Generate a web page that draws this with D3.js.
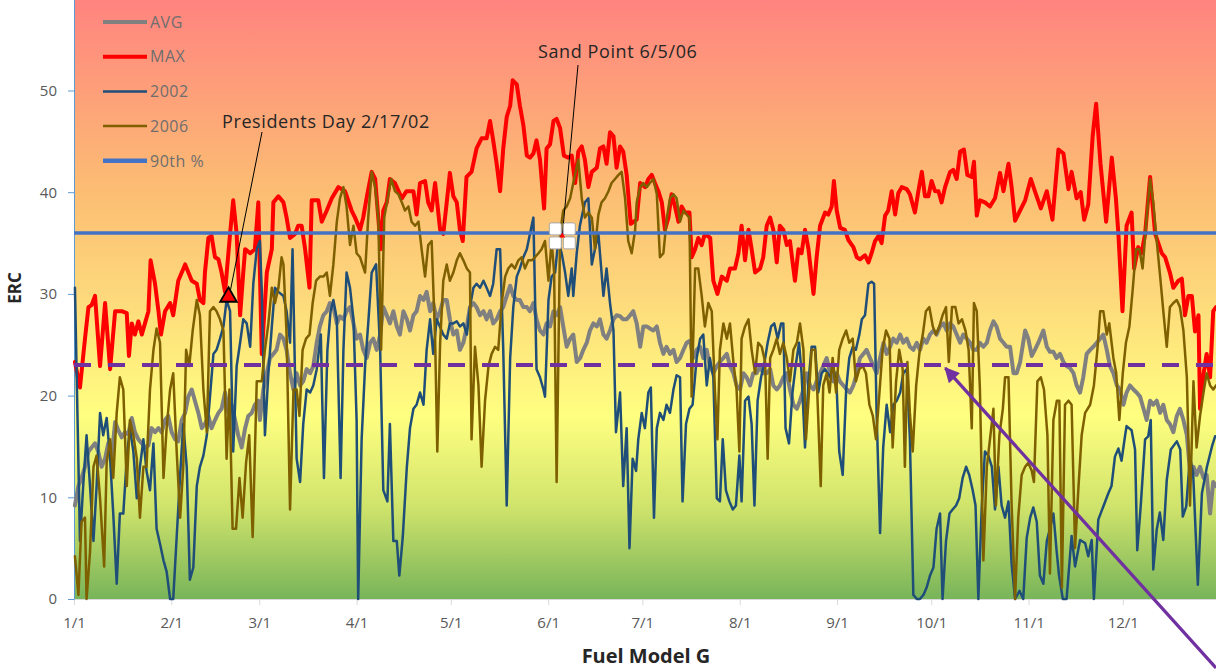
<!DOCTYPE html>
<html>
<head>
<meta charset="utf-8">
<script src="https://cdn.jsdelivr.net/npm/d3@7"></script>
<style>
html, body { margin: 0; padding: 0; background: #fff; }
svg { display: block; font-family: "Open Sans", sans-serif; }
</style>
</head>
<body>
<svg id="chart" width="1216" height="670"></svg>
<script>
// month axis
const monthLabels = ["1/1","2/1","3/1","4/1","5/1","6/1","7/1","8/1","9/1","10/1","11/1","12/1"];
const monthStartDays = [0,31,59,90,120,151,181,212,243,273,304,334];
const yTicks = [0,10,20,30,40,50];

const ninetieth = 36;   // 90th percentile ERC
const dashLevel = 23;   // purple dashed reference

// [day of year, ERC]
const avgPts = [[0.3,9.2],[1.4,11.1],[2.4,11.9],[3.5,13.0],[4.6,14.5],[5.6,14.9],[6.7,15.3],[7.7,14.5],[8.8,13.0],[9.9,13.8],[10.9,15.3],[12.0,14.0],[13.1,17.4],[14.1,16.6],[15.2,15.9],[16.2,16.4],[17.3,16.2],[18.4,17.8],[19.4,16.4],[20.5,15.7],[21.6,15.3],[22.6,14.9],[23.7,15.1],[24.7,16.8],[25.8,16.4],[26.9,16.8],[27.9,16.4],[29.0,17.6],[30.0,18.0],[31.1,16.4],[32.2,15.7],[33.2,15.5],[34.3,17.6],[35.4,18.3],[36.4,19.9],[37.5,20.6],[38.5,19.5],[39.6,18.3],[40.7,16.8],[41.7,17.2],[42.8,18.0],[43.8,16.8],[44.9,17.6],[46.0,18.3],[47.0,18.7],[48.1,20.3],[49.2,18.3],[50.2,19.1],[51.3,17.6],[52.3,16.1],[53.4,14.9],[54.5,16.8],[55.5,18.0],[56.6,18.3],[57.6,19.1],[58.7,19.5],
[59.2,17.6],[60.3,20.6],[61.4,22.2],[62.4,23.7],[63.5,24.1],[64.5,24.5],[65.6,26.0],[66.7,25.6],[67.7,24.5],[68.8,22.2],[69.9,20.6],[70.9,22.2],[72.0,21.0],[73.0,21.4],[74.1,22.6],[75.2,22.2],[76.2,22.9],[77.3,25.2],[78.3,26.8],[79.4,27.9],[80.5,28.3],[81.5,29.1],[82.6,28.7],[83.7,27.1],[84.7,27.8],[85.8,27.5],[86.8,28.3],[87.9,28.7],[89.0,27.1],[90.0,25.6],[91.1,26.0],[92.1,24.5],[93.2,23.7],[94.3,25.2],[95.3,25.6],[96.4,24.5],[97.5,26.0],[98.5,28.7],[99.6,27.9],[100.6,27.1],[101.7,28.3],[102.8,26.8],[103.8,26.0],[104.9,28.3],[106.0,27.5],[107.0,26.4],[108.1,27.9],[109.1,28.3],[110.2,29.8],[111.3,29.4],[112.3,30.2],[113.4,28.3],[114.4,29.1],[115.5,27.5],
[116.6,28.3],[117.6,29.4],[118.7,29.4],[119.7,27.5],[120.8,26.0],[121.9,26.4],[122.9,24.5],[124.0,25.2],[125.1,26.8],[126.1,28.7],[127.2,29.1],[128.2,28.7],[129.3,27.9],[130.4,28.3],[131.4,27.5],[132.5,28.3],[133.5,27.1],[134.6,27.5],[135.7,28.3],[136.7,28.7],[137.8,29.8],[138.9,30.8],[139.9,29.8],[141.0,29.4],[142.0,29.4],[143.1,28.7],[144.2,28.7],[145.2,28.3],[146.3,29.1],[147.3,27.5],[148.4,26.4],[149.5,26.0],[150.5,27.1],[151.6,26.8],[152.7,28.3],[153.7,27.9],[154.8,28.7],[155.8,26.8],[156.9,24.8],[158.0,25.6],[159.0,26.0],[160.1,23.3],[161.2,23.7],[162.2,24.5],[163.3,25.2],[164.3,26.4],[165.4,27.1],[166.5,26.8],[167.5,27.5],[168.6,26.0],[169.6,25.6],[170.7,26.4],[171.8,27.5],[172.8,27.9],[173.9,27.8],[174.9,27.5],[176.0,27.5],[177.1,27.9],[178.1,28.3],
[179.2,27.1],[180.3,24.8],[181.3,26.8],[182.4,26.8],[183.4,26.6],[184.5,26.4],[185.6,26.8],[186.6,25.2],[187.7,24.1],[188.7,24.8],[189.8,24.1],[190.9,24.5],[191.9,23.3],[193.0,23.7],[194.1,24.5],[195.1,25.2],[196.2,25.4],[197.2,23.7],[198.3,24.5],[199.4,24.8],[200.4,23.7],[201.5,24.5],[202.5,22.9],[203.6,22.2],[204.7,22.9],[205.7,23.3],[206.8,23.7],[207.9,24.1],[208.9,22.9],[210.0,22.2],[211.0,21.0],[212.1,20.6],[213.2,22.2],[214.2,21.8],[215.3,21.0],[216.3,22.2],[217.4,22.2],[218.5,22.9],[219.5,22.2],[220.6,22.2],[221.7,22.6],[222.7,21.0],[223.8,20.6],[224.8,21.0],[225.9,21.8],[227.0,22.2],[228.0,20.6],[229.1,19.1],[230.2,18.7],[231.2,19.5],[232.3,20.6],[233.3,22.2],[234.4,21.0],[235.5,20.6],[236.5,21.4],[237.6,22.2],[238.6,22.9],[239.7,23.7],
[240.8,22.2],[241.8,21.4],[242.9,22.2],[243.9,21.4],[245.0,21.0],[246.1,20.6],[247.1,20.3],[248.2,21.0],[249.3,22.2],[250.3,23.7],[251.4,24.1],[252.4,24.5],[253.5,23.7],[254.6,22.9],[255.6,22.2],[256.7,23.7],[257.8,25.2],[258.8,24.1],[259.9,24.8],[260.9,25.6],[262.0,25.2],[263.1,26.0],[264.1,25.2],[265.2,25.6],[266.2,24.8],[267.3,24.5],[268.4,25.2],[269.4,24.5],[270.5,25.6],[271.5,25.2],[272.6,26.0],[273.7,26.4],[274.7,26.0],[275.8,26.8],[276.9,27.1],[277.9,26.4],[279.0,27.1],[280.0,26.8],[281.1,26.0],[282.2,25.2],[283.2,26.0],[284.3,25.6],[285.4,25.2],[286.4,24.5],[287.5,24.5],[288.5,25.2],[289.6,24.8],[290.7,25.2],[291.7,26.4],[292.8,27.3],[293.8,26.8],[294.9,25.6],[296.0,25.2],[297.0,24.8],[298.1,24.8],[299.2,22.2],[300.2,22.2],
[301.3,23.3],[302.9,26.4],[303.9,25.6],[305.0,23.9],[306.0,24.5],[307.1,25.2],[308.7,26.4],[309.8,24.8],[310.8,24.3],[311.9,24.3],[312.9,23.7],[314.0,24.1],[315.1,23.3],[316.1,22.9],[317.2,22.7],[318.3,22.2],[319.3,21.0],[320.4,20.3],[321.4,21.8],[322.5,24.1],[323.6,24.5],[324.6,24.8],[325.7,25.2],[326.8,25.6],[327.8,26.0],[328.9,24.5],[329.9,22.9],[331.0,22.2],[332.1,21.0],[333.1,20.6],[334.2,19.1],[335.2,20.3],[336.3,21.0],[337.4,20.6],[338.4,20.3],[339.5,19.9],[340.6,18.7],[341.6,17.6],[342.7,19.5],[343.7,19.1],[344.8,19.5],[345.9,18.3],[346.9,19.1],[348.0,17.6],[349.0,17.2],[350.1,16.4],[351.2,18.0],[352.2,18.7],[353.3,17.6],[354.4,16.1],[355.4,12.6],[356.5,13.0],[357.5,12.2],[358.6,13.0],[359.7,11.9],[360.7,12.2],[361.8,8.4],[362.8,11.5],[363.7,11.1]];

const maxPts = [[0.3,23.3],[1.9,20.8],[3.5,25.6],[4.6,28.7],[5.6,28.9],[6.7,29.8],[8.3,22.9],[9.9,29.1],[11.5,22.6],[13.1,28.3],[15.2,28.3],[16.8,28.1],[17.5,23.9],[18.4,27.1],[19.4,26.0],[20.5,27.3],[21.6,26.0],[22.6,27.1],[23.7,28.3],[24.4,33.3],[25.8,31.0],[26.9,28.3],[27.7,26.0],[29.0,28.3],[30.6,29.1],[31.6,27.9],[33.2,31.3],[35.4,32.9],[37.5,31.3],[39.1,31.0],[40.1,29.4],[41.2,29.1],[41.7,32.1],[42.8,35.5],[43.8,35.7],[44.9,33.6],[46.0,33.4],[47.0,32.1],[48.1,30.2],[49.7,35.9],[50.7,39.2],[51.8,35.9],[52.9,27.9],[53.9,32.1],[54.5,34.4],[56.1,34.0],[57.6,34.4],[58.7,39.0],[59.8,24.1],[61.4,32.1],[63.0,34.4],[63.5,39.0],[65.1,39.6],[66.7,39.0],[67.7,37.5],[68.8,35.5],[70.4,35.9],[71.4,36.7],[72.5,36.7],[73.6,34.4],[75.0,30.6],[75.7,39.2],[77.8,39.2],[78.9,37.1],[80.5,38.2],[82.1,39.4],[84.2,40.5],[86.3,40.1],[88.4,38.2],[89.5,37.5],[91.1,36.3],[92.1,37.5],[93.4,39.8],[94.8,42.0],[95.9,41.3],[96.9,37.5],[97.7,34.4],[98.5,38.2],[99.6,39.0],[100.6,41.3],[102.2,40.9],[104.4,39.4],[105.9,40.1],[108.1,40.1],[109.1,37.8],[110.2,40.9],[111.8,41.1],[112.8,39.0],[113.9,38.2],[115.0,40.9],[116.6,36.3],[117.6,35.9],[118.7,39.0],[119.7,41.9],[120.8,39.6],[121.9,39.0],[122.9,36.3],[123.8,35.2],[125.0,41.5],[126.6,42.0],[128.2,44.3],[129.8,45.3],[131.4,45.3],[132.5,47.0],[133.5,45.1],[134.6,42.8],[135.7,40.1],[136.7,44.3],[137.8,47.4],[138.9,48.5],[139.7,51.0],[141.0,50.6],[142.0,48.5],[143.1,46.6],[144.2,43.6],[145.2,43.4],[146.3,43.8],[147.3,45.1],[148.4,43.2],[149.7,38.4],[150.5,44.3],[151.6,44.7],[152.7,47.0],[153.7,47.2],[154.8,46.3],[156.0,43.6],[157.4,43.4],[158.5,43.6],[159.6,40.9],[160.6,44.0],[161.7,44.5],[162.7,43.2],[163.8,40.5],[164.9,42.0],[166.5,42.4],[167.5,44.3],[168.6,44.5],[169.6,42.8],[170.7,45.9],[171.8,45.5],[172.8,42.4],[173.9,44.5],[174.9,44.0],[176.0,41.7],[177.3,36.9],[179.2,37.3],[180.3,40.9],[181.9,40.5],[182.9,41.3],[184.0,41.7],[185.0,40.9],[186.1,40.1],[187.2,39.0],[188.2,36.3],[189.3,37.5],[190.3,39.8],[191.4,38.6],[192.5,37.1],[193.5,38.6],[194.6,38.0],[196.0,38.0],[196.7,33.6],[197.8,34.4],[198.8,35.5],[199.9,34.8],[200.9,35.9],[202.6,35.5],[203.6,31.3],[204.9,30.0],[206.3,31.7],[207.9,31.3],[208.9,32.5],[210.5,32.5],[211.6,34.0],[212.6,36.7],[213.7,33.3],[214.8,36.3],[215.8,34.4],[216.9,32.1],[218.5,32.5],[219.5,33.6],[220.6,36.7],[221.7,37.5],[222.7,36.3],[223.8,33.1],[224.8,36.7],[225.9,36.3],[227.0,34.8],[228.0,35.2],[229.1,32.5],[229.6,31.3],[230.7,34.4],[231.7,34.0],[232.8,36.3],[233.9,34.4],[235.5,30.0],[236.5,33.6],[237.6,36.7],[239.2,38.0],[240.2,37.8],[241.3,38.6],[242.0,41.1],[242.9,38.2],[244.0,36.5],[245.5,36.3],[246.6,35.3],[248.2,34.6],[249.3,33.6],[250.3,33.4],[251.9,33.8],[253.0,33.1],[254.0,34.0],[255.1,35.2],[256.2,35.7],[257.2,35.0],[258.3,37.7],[259.3,38.2],[260.4,40.1],[261.5,37.8],[262.5,39.9],[263.6,40.5],[265.2,40.3],[266.2,39.8],[267.8,38.0],[268.9,40.1],[270.0,42.0],[271.0,39.6],[272.1,39.6],[273.1,41.1],[274.2,40.1],[275.3,40.1],[276.3,39.0],[277.4,40.5],[279.0,42.0],[280.0,42.2],[281.1,41.3],[282.2,44.0],[283.4,44.2],[284.5,41.7],[285.9,41.5],[286.6,43.0],[287.5,37.7],[288.5,39.2],[290.1,39.0],[291.7,38.6],[293.3,39.4],[294.9,41.9],[296.0,40.1],[297.6,42.8],[298.6,40.5],[299.7,37.2],[301.3,38.2],[302.9,39.2],[304.7,41.3],[306.0,40.1],[307.9,38.4],[309.8,40.1],[311.6,37.3],[313.5,44.2],[315.1,43.8],[316.7,40.3],[317.7,42.0],[319.3,39.4],[320.6,40.0],[321.7,37.3],[323.0,38.8],[324.4,45.5],[325.5,48.7],[326.9,42.8],[328.7,37.1],[330.5,43.4],[331.8,39.4],[332.6,35.9],[333.9,28.3],[335.2,36.7],[336.8,38.0],[337.6,32.5],[338.9,34.6],[340.0,34.0],[341.1,35.9],[342.7,41.5],[344.3,35.9],[346.4,34.0],[347.5,33.6],[349.0,32.1],[350.1,30.6],[351.7,31.3],[352.8,31.5],[353.8,27.9],[354.9,29.8],[356.0,29.8],[357.0,26.3],[358.1,27.9],[358.6,18.7],[359.7,22.1],[360.7,24.1],[361.8,21.8],[362.8,28.3],[363.7,28.7]];

const erc2002 = [[0.3,30.6],[1.9,5.7],[3.0,11.5],[4.0,16.1],[5.1,11.1],[6.2,5.7],[7.2,11.1],[8.3,18.3],[9.3,16.1],[10.4,17.8],[11.5,13.8],[12.5,8.4],[13.6,1.5],[14.6,8.4],[15.7,8.4],[16.8,13.8],[17.8,16.8],[18.9,14.5],[20.0,9.9],[21.0,13.0],[22.1,15.7],[23.1,12.6],[24.2,10.7],[25.3,15.3],[26.3,6.9],[27.4,5.4],[28.5,3.8],[29.5,2.7],[30.6,0],[31.6,0],[32.7,6.1],[33.8,12.2],[34.8,17.2],[35.9,13.0],[36.9,1.9],[38.0,3.1],[39.1,11.1],[40.1,13.0],[41.2,14.1],[42.3,16.1],[43.3,19.9],[44.4,24.1],[45.4,24.5],[46.5,25.6],[47.6,26.8],[48.6,29.4],[49.7,28.3],[50.7,14.5],[51.8,22.9],[52.9,25.2],[53.9,27.5],[55.0,27.1],[56.1,24.8],[57.1,31.0],[58.2,34.4],
[59.2,35.2],[59.8,30.2],[60.8,16.1],[61.9,22.2],[63.0,26.8],[64.0,30.6],[65.1,30.2],[66.7,29.8],[67.7,28.3],[68.8,25.2],[69.6,34.4],[70.9,13.8],[72.0,11.5],[73.0,17.2],[74.1,20.6],[75.2,20.3],[76.2,21.0],[77.3,22.6],[78.6,26.0],[79.6,11.9],[80.7,24.5],[81.7,28.3],[82.6,29.4],[83.7,27.5],[84.9,11.9],[85.8,24.5],[86.8,32.1],[87.9,30.6],[89.0,27.5],[90.0,17.6],[90.5,0],[91.6,15.7],[92.7,22.9],[93.7,27.1],[94.8,32.1],[96.2,32.9],[97.5,24.5],[98.5,10.7],[99.8,9.6],[100.6,17.2],[101.7,5.7],[102.8,5.7],[103.6,2.3],[104.7,6.1],[106.0,13.0],[107.0,16.8],[108.1,18.7],[109.1,19.1],[110.2,20.3],[111.3,19.1],[112.3,24.5],[113.4,27.5],[114.4,24.1],[115.5,27.5],
[117.6,26.0],[118.7,25.6],[119.7,27.1],[120.8,27.1],[121.9,27.3],[122.9,26.8],[124.0,27.1],[125.1,26.0],[126.1,28.7],[127.2,30.6],[128.2,31.0],[129.3,30.6],[130.4,31.3],[131.4,30.6],[132.5,29.8],[133.5,31.0],[134.6,34.4],[135.7,34.4],[136.7,24.5],[137.8,9.2],[138.9,23.7],[139.9,28.7],[141.0,31.7],[142.0,32.5],[143.1,33.6],[144.2,34.4],[145.2,35.9],[146.3,37.5],[147.3,22.6],[148.4,21.8],[149.5,20.6],[150.0,19.9],[151.1,29.4],[152.1,31.7],[153.2,32.1],[154.2,35.2],[155.3,34.0],[156.4,32.1],[157.4,29.8],[158.5,32.5],[159.0,29.8],[160.1,34.0],[161.1,36.7],[162.7,39.0],[163.8,39.4],[164.9,32.9],[165.9,34.4],[167.0,35.9],[168.0,32.1],[168.6,29.8],[169.6,32.5],[170.7,29.1],[171.8,26.4],[172.6,16.4],[173.9,20.3],[174.9,11.1],[176.0,16.8],[176.9,5.0],[177.9,13.8],[179.0,12.6],
[179.7,15.7],[180.8,18.3],[181.8,16.8],[182.9,20.3],[183.7,20.8],[184.7,8.0],[185.6,16.8],[186.6,18.3],[187.7,17.6],[188.7,19.1],[189.8,18.3],[190.9,20.6],[191.9,22.0],[193.0,21.8],[193.8,9.6],[194.9,17.2],[196.0,18.7],[197.0,19.1],[198.3,23.7],[199.4,25.6],[200.4,26.0],[201.5,21.0],[202.5,23.7],[203.6,21.8],[204.7,9.9],[205.7,9.6],[206.6,15.7],[207.6,10.7],[208.7,9.6],[209.8,8.8],[210.8,9.2],[211.9,14.1],[212.6,9.6],[213.7,19.5],[214.8,19.9],[215.8,17.2],[216.7,9.2],[217.7,19.5],[218.8,21.8],[219.9,23.3],[220.9,25.2],[222.0,26.8],[223.0,27.1],[224.1,25.6],[225.2,27.1],[225.9,27.1],[226.6,16.8],[227.7,15.3],[228.8,20.3],[229.8,22.9],[230.9,25.2],[231.7,22.2],[232.8,14.9],[233.9,21.4],[234.9,24.8],[236.0,24.8],[237.0,20.3],[238.1,22.2],[239.2,22.6],
[240.8,21.8],[241.8,22.9],[242.9,20.6],[243.7,14.5],[244.8,12.2],[245.9,20.6],[246.9,23.7],[248.0,24.8],[249.0,24.5],[250.1,26.0],[250.9,27.5],[251.9,27.9],[253.0,31.0],[254.0,31.2],[254.8,31.0],[255.6,18.3],[256.7,6.5],[257.7,14.9],[258.8,19.1],[259.9,16.4],[260.9,19.1],[262.0,19.5],[263.1,20.3],[264.1,22.2],[265.2,22.6],[266.2,15.7],[267.3,0.4],[268.4,0],[269.4,0],[270.5,0.4],[271.5,1.1],[272.6,2.3],[273.7,3.1],[274.7,6.9],[275.8,8.4],[276.6,0],[277.7,5.7],[278.8,8.4],[279.8,8.8],[280.9,9.2],[281.9,9.9],[283.0,11.9],[284.1,13.0],[285.1,12.2],[286.2,10.7],[287.1,9.2],[288.0,0],[289.1,9.2],[290.1,14.5],[291.2,14.1],[292.3,13.0],[293.3,8.8],[294.4,13.0],[295.4,9.2],[296.5,8.0],[297.6,9.6],[298.6,3.4],
[299.7,0],[301.1,0.8],[302.3,0],[303.4,6.0],[304.5,8.0],[305.5,9.0],[306.6,7.6],[307.6,2.3],[308.7,1.5],[309.8,5.7],[310.8,6.9],[311.9,8.4],[312.9,4.8],[313.7,2.3],[314.9,0],[316.1,0],[317.7,6.2],[318.8,3.2],[320.4,5.8],[322.0,5.5],[323.0,4.2],[324.1,5.8],[324.8,0],[326.2,7.8],[327.8,9.1],[329.4,10.4],[330.4,11.1],[331.5,14.0],[332.6,14.8],[333.6,13.6],[334.7,16.0],[335.2,17.0],[336.8,16.6],[337.9,14.7],[338.6,4.8],[339.7,9.1],[341.1,15.7],[342.1,16.0],[342.9,17.6],[343.7,2.9],[344.8,6.8],[345.8,8.5],[346.9,5.8],[348.0,11.7],[349.3,14.7],[351.2,15.5],[352.3,14.7],[353.1,8.1],[354.2,9.1],[355.4,14.0],[356.4,12.4],[357.9,1.4],[359.2,10.4],[360.8,13.0],[362.4,15.0],[363.4,16.0]];

const erc2006 = [[0.3,4.2],[1.4,0.4],[2.4,7.6],[3.5,8.0],[4.0,0],[5.1,4.6],[6.2,13.0],[7.2,14.1],[8.3,9.9],[9.6,3.2],[10.4,13.4],[11.5,15.7],[12.5,11.9],[13.6,18.3],[14.6,21.8],[15.7,20.6],[16.8,11.1],[17.8,17.6],[18.9,16.1],[20.0,13.8],[21.0,8.0],[22.1,13.0],[23.1,13.0],[24.2,20.6],[25.3,24.5],[26.3,26.6],[27.4,25.2],[28.5,11.9],[29.5,16.8],[30.6,20.6],[31.6,22.2],[32.7,14.5],[33.8,8.0],[34.8,13.0],[35.7,24.5],[36.7,22.9],[37.8,26.4],[39.1,29.4],[40.1,27.9],[41.2,20.6],[42.3,16.4],[43.3,28.3],[44.4,28.7],[45.4,28.3],[46.5,27.5],[47.6,26.4],[48.6,13.8],[49.5,20.6],[50.5,6.9],[51.6,6.9],[52.7,11.9],[53.7,8.0],[54.8,13.4],[55.8,16.1],[56.9,6.1],
[58.2,21.4],[59.8,21.4],[60.8,24.5],[61.9,27.1],[63.0,30.6],[64.0,29.1],[65.1,30.6],[66.1,33.6],[66.7,32.9],[67.7,26.0],[68.8,8.8],[69.9,20.6],[70.9,20.6],[71.8,18.0],[72.8,24.5],[73.9,25.6],[75.0,26.0],[76.0,29.1],[77.1,31.3],[78.3,31.7],[79.4,31.7],[80.5,32.1],[81.5,29.8],[82.6,32.9],[83.7,37.1],[84.7,39.4],[85.8,40.5],[86.8,38.6],[87.9,34.8],[89.0,36.7],[90.0,34.0],[91.1,33.6],[92.7,32.1],[93.7,37.5],[94.8,42.0],[95.9,40.5],[96.9,37.5],[97.8,24.5],[98.8,37.5],[99.9,39.4],[101.0,41.3],[102.2,40.1],[103.3,39.8],[104.4,39.0],[105.4,38.2],[106.5,38.6],[107.5,37.1],[108.6,36.7],[109.7,37.1],[110.7,34.4],[111.8,31.7],[112.8,34.8],[113.9,35.2],[115.0,25.6],[115.7,14.5],[116.6,25.2],[117.6,31.3],[118.7,32.9],
[119.7,31.3],[120.8,32.1],[121.9,33.3],[122.9,34.0],[124.0,33.3],[125.1,32.5],[126.1,32.1],[126.6,15.7],[127.7,24.8],[128.8,21.0],[129.8,13.0],[130.9,19.5],[132.0,22.9],[133.0,24.1],[134.1,24.8],[135.1,24.5],[136.2,29.1],[137.3,31.7],[138.3,32.5],[139.4,32.9],[140.4,32.5],[141.5,33.3],[142.6,33.6],[143.6,32.5],[144.7,33.3],[145.8,33.3],[146.8,33.6],[147.9,34.0],[148.9,34.4],[150.0,35.2],[151.1,31.3],[152.1,35.2],[152.9,32.1],[153.7,11.5],[154.8,35.9],[155.8,38.2],[156.9,38.6],[158.0,39.4],[159.0,40.9],[160.6,43.2],[161.7,39.4],[162.7,37.5],[163.8,38.0],[164.9,37.5],[165.9,34.4],[167.0,37.8],[168.0,39.0],[169.1,39.4],[170.2,40.1],[171.2,40.9],[172.3,41.3],[173.4,41.7],[174.4,42.0],[175.5,39.4],[176.5,35.2],[177.6,34.0],[178.7,36.3],
[179.2,39.0],[180.3,40.5],[181.3,40.9],[182.4,40.5],[183.4,40.9],[184.5,41.3],[185.6,39.8],[186.6,33.6],[187.7,34.0],[188.8,37.5],[189.8,39.4],[190.9,39.8],[191.9,39.4],[193.0,37.1],[194.1,38.2],[195.1,37.8],[196.0,37.5],[196.7,19.9],[197.8,32.5],[198.8,32.5],[199.9,29.8],[200.9,26.8],[202.0,29.1],[203.1,28.3],[204.1,20.6],[204.9,15.7],[205.7,24.5],[206.8,27.1],[207.9,25.6],[208.9,27.1],[210.0,23.3],[211.0,20.6],[211.9,14.5],[212.6,25.6],[213.7,26.8],[214.8,27.5],[215.8,24.5],[216.9,22.2],[217.9,25.2],[219.0,24.8],[220.1,23.3],[220.9,13.8],[221.7,23.7],[222.7,24.5],[223.8,25.6],[224.8,24.1],[225.9,25.2],[227.0,23.7],[228.0,21.4],[229.1,24.5],[230.2,25.2],[231.2,27.1],[232.3,24.5],[233.1,15.7],[234.2,21.0],[234.9,24.5],[236.0,24.5],[236.7,20.3],[237.8,11.1],[238.6,21.0],[239.7,22.2],
[240.6,20.3],[241.6,23.7],[242.7,20.3],[243.7,24.5],[244.8,25.6],[245.9,26.4],[246.9,25.2],[248.0,25.6],[249.0,21.4],[250.1,22.6],[251.2,22.9],[252.2,22.2],[253.3,19.1],[254.4,18.0],[255.4,15.7],[256.5,20.3],[257.5,24.5],[258.6,26.4],[259.7,25.6],[260.7,14.9],[261.8,21.4],[262.8,24.5],[263.9,22.6],[264.6,13.0],[265.4,23.3],[266.2,18.3],[267.1,14.5],[268.2,21.0],[269.2,24.1],[270.3,26.0],[271.3,28.3],[272.4,28.7],[273.5,26.8],[274.5,26.0],[275.6,26.8],[276.6,27.9],[277.7,28.7],[278.6,23.3],[279.6,28.7],[280.7,28.7],[281.7,27.1],[282.8,27.5],[283.9,26.4],[284.9,24.5],[285.9,16.8],[286.6,29.1],[287.5,28.3],[288.5,20.6],[289.6,3.8],[290.7,13.0],[291.7,15.7],[292.8,18.7],[293.6,9.2],[294.7,16.1],[295.8,18.7],[296.5,21.8],[297.6,21.8],[298.6,9.2],[299.7,0],
[300.7,8.0],[301.8,12.2],[302.9,13.0],[303.9,13.4],[305.0,12.6],[305.7,11.5],[306.8,21.4],[307.9,21.8],[308.9,20.6],[310.0,16.1],[310.8,2.5],[311.9,17.6],[313.0,19.5],[313.8,19.5],[314.6,1.1],[315.6,19.1],[316.7,19.5],[317.7,19.1],[318.8,5.0],[319.9,11.1],[320.9,16.1],[322.0,18.3],[323.6,19.1],[324.8,21.0],[325.9,24.5],[326.8,28.3],[327.8,28.3],[328.9,26.0],[329.7,27.1],[331.0,23.7],[331.9,22.2],[332.9,17.6],[334.0,22.2],[335.0,25.2],[336.1,26.8],[337.2,30.6],[338.2,34.4],[339.3,34.4],[340.3,32.5],[341.6,37.5],[342.7,41.3],[343.7,39.0],[344.8,35.2],[345.9,31.7],[346.9,28.3],[348.0,24.8],[349.0,28.7],[350.1,29.1],[351.2,29.4],[352.2,28.7],[353.3,26.4],[354.4,21.8],[355.4,9.2],[356.5,21.4],[357.5,14.9],[358.6,18.0],[359.7,20.3],[360.7,22.2],[361.8,21.0],[362.8,20.6],[363.7,21.0]];

const seriesNames = ["AVG","MAX","2002","2006","90th %"];

const svg = d3.select("#chart");
const x = d3.scaleLinear().domain([0, 364]).range([74, 1217]);
const y = d3.scaleLinear().domain([0, 60]).range([599, -11.2]);

// background gradient for the plot area
const defs = svg.append("defs");
const grad = defs.append("linearGradient")
    .attr("id", "bg").attr("x1", 0).attr("y1", 0).attr("x2", 0).attr("y2", 1);
[[0, "#ff8080"], [0.33, "#fcbd73"], [0.5, "#fdd87b"], [0.7, "#ffff80"], [0.85, "#cfe36b"], [1, "#78b45a"]]
    .forEach(s => grad.append("stop").attr("offset", s[0]).attr("stop-color", s[1]));

defs.append("marker")
    .attr("id", "arrowHead")
    .attr("markerUnits", "userSpaceOnUse")
    .attr("viewBox", "0 0 10 10")
    .attr("refX", 9).attr("refY", 5)
    .attr("markerWidth", 17).attr("markerHeight", 15)
    .attr("orient", "auto")
    .append("path").attr("d", "M0,0 L10,5 L0,10 Z").attr("fill", "#7030a0");

svg.append("rect")
    .attr("x", x(0)).attr("y", y(60))
    .attr("width", 1216 - x(0)).attr("height", y(0) - y(60))
    .attr("fill", "url(#bg)");

// axes
const yAxis = svg.append("g")
    .attr("transform", `translate(${x(0)},0)`)
    .call(d3.axisLeft(y).tickValues(yTicks).tickSize(6).tickPadding(11).tickSizeOuter(0));
yAxis.select(".domain").attr("stroke", "#5b9bd5");
yAxis.selectAll(".tick line").attr("stroke", "#5b9bd5");
yAxis.selectAll("text").attr("fill", "#595959").style("font-size", "15px").style("font-family", "Open Sans");

const xAxis = svg.append("g")
    .attr("transform", `translate(0,${y(0)})`)
    .call(d3.axisBottom(x).tickValues(monthStartDays).tickFormat((d, i) => monthLabels[i]).tickSize(6).tickPadding(12).tickSizeOuter(0));
xAxis.select(".domain").attr("stroke", "#d9d9d9");
xAxis.selectAll(".tick line").attr("stroke", "#d9d9d9");
xAxis.selectAll("text").attr("fill", "#595959").style("font-size", "15px").style("font-family", "Open Sans");
yAxis.raise();

// series
const line = d3.line().x(d => x(d[0])).y(d => y(d[1]));
const series = [
    { data: avgPts, color: "#808080", width: 4 },
    { data: maxPts, color: "#ff0000", width: 4 },
    { data: erc2002, color: "#1f4e79", width: 2.5 },
    { data: erc2006, color: "#7f6000", width: 2.5 }
];
series.forEach(s => {
    svg.append("path")
        .datum(s.data)
        .attr("d", line)
        .attr("fill", "none")
        .attr("stroke", s.color)
        .attr("stroke-width", s.width)
        .attr("stroke-linejoin", "round")
        .attr("stroke-linecap", "round");
});

// reference lines
svg.append("line")
    .attr("x1", x(0)).attr("x2", 1216)
    .attr("y1", y(ninetieth)).attr("y2", y(ninetieth))
    .attr("stroke", "#4472c4").attr("stroke-width", 3.5);

svg.append("line")
    .attr("x1", x(0)).attr("x2", 1216)
    .attr("y1", y(dashLevel)).attr("y2", y(dashLevel))
    .attr("stroke", "#7030a0").attr("stroke-width", 4)
    .attr("stroke-dasharray", "17,17");

// annotation: Presidents Day
const pdX = x(49.2), pdY = y(29.8);
svg.append("line")
    .attr("x1", 262).attr("y1", 132).attr("x2", pdX + 2).attr("y2", pdY - 6)
    .attr("stroke", "#000").attr("stroke-width", 1);
svg.append("path")
    .attr("d", d3.symbol(d3.symbolTriangle, 120)())
    .attr("transform", `translate(${pdX},${pdY + 1})`)
    .attr("fill", "#ff0000").attr("stroke", "#000").attr("stroke-width", 1.8);
svg.append("text")
    .attr("x", 222).attr("y", 128)
    .attr("fill", "#262626")
    .style("font-size", "18px").style("letter-spacing", "0.6px")
    .text("Presidents Day 2/17/02");

// annotation: Sand Point
const spX = x(155.5), spY = y(ninetieth) + 3;
svg.append("line")
    .attr("x1", 578).attr("y1", 65).attr("x2", spX).attr("y2", spY)
    .attr("stroke", "#000").attr("stroke-width", 1);
[[-13, -13], [1, -13], [-13, 1], [1, 1]].forEach(o => {
    svg.append("rect")
        .attr("x", spX + o[0]).attr("y", spY + o[1])
        .attr("width", 12).attr("height", 12).attr("rx", 2)
        .attr("fill", "#fff").attr("stroke", "#a6a6a6").attr("stroke-width", 1);
});
svg.append("path")
    .attr("d", d3.symbol(d3.symbolTriangle, 14)())
    .attr("transform", `translate(${spX},${spY})`)
    .attr("fill", "#ff0000");
svg.append("text")
    .attr("x", 538).attr("y", 58)
    .attr("fill", "#262626")
    .style("font-size", "18px").style("letter-spacing", "0.6px")
    .text("Sand Point 6/5/06");

// purple arrow to the dashed line
svg.append("line")
    .attr("x1", 1216).attr("y1", 668)
    .attr("x2", x(277.5)).attr("y2", y(dashLevel) + 3)
    .attr("stroke", "#7030a0").attr("stroke-width", 3.3)
    .attr("marker-end", "url(#arrowHead)");

// legend
const legendItems = [
    { name: seriesNames[0], color: "#808080", width: 4 },
    { name: seriesNames[1], color: "#ff0000", width: 4 },
    { name: seriesNames[2], color: "#1f4e79", width: 2.5 },
    { name: seriesNames[3], color: "#7f6000", width: 2.5 },
    { name: seriesNames[4], color: "#4472c4", width: 4.5 }
];
const legend = svg.append("g").attr("transform", "translate(103,22)");
legendItems.forEach((d, i) => {
    const g = legend.append("g").attr("transform", `translate(0,${i * 34.7})`);
    g.append("line").attr("x1", 0).attr("x2", 44).attr("stroke", d.color).attr("stroke-width", d.width);
    g.append("text").attr("x", 47).attr("dy", "0.36em")
        .attr("fill", "#6e6e6e")
        .style("font-size", "16px").style("letter-spacing", "0.5px")
        .text(d.name);
});

// axis titles
svg.append("text")
    .attr("x", 646).attr("y", 663)
    .attr("text-anchor", "middle")
    .attr("fill", "#262626")
    .style("font-size", "20px").style("font-weight", "bold")
    .text("Fuel Model G");

svg.append("text")
    .attr("transform", "translate(21,288) rotate(-90)")
    .attr("text-anchor", "middle")
    .attr("fill", "#262626")
    .style("font-size", "17px").style("font-weight", "bold")
    .text("ERC");
</script>
</body>
</html>
